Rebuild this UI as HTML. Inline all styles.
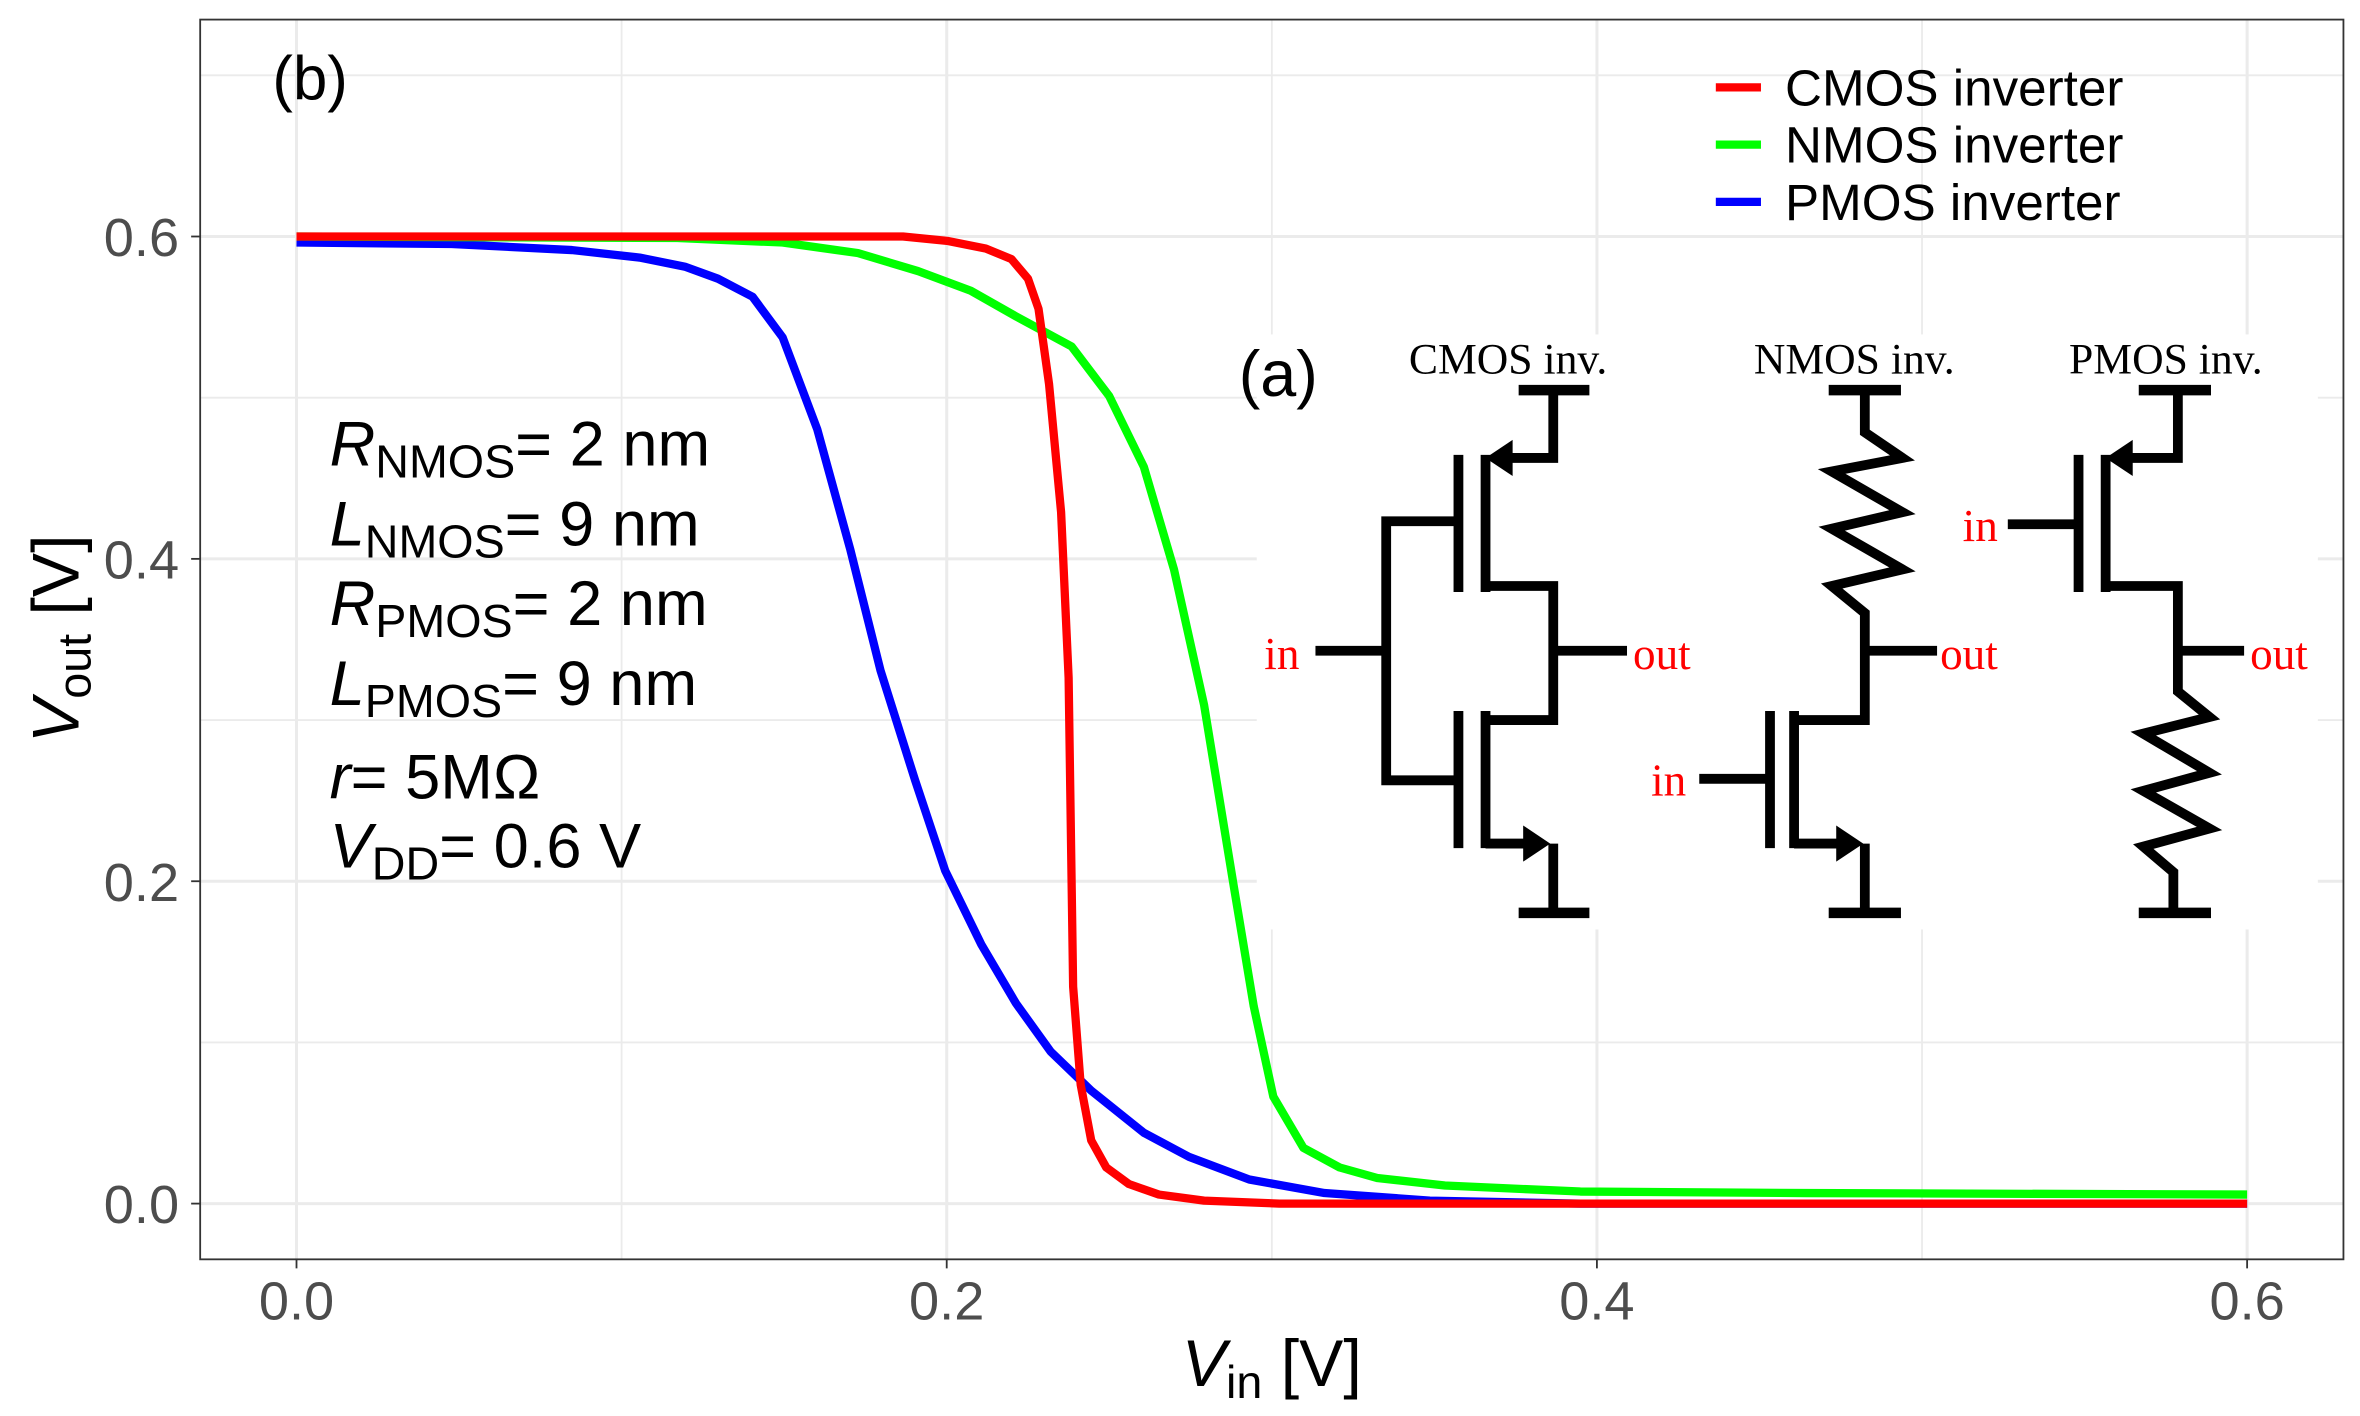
<!DOCTYPE html>
<html><head><meta charset="utf-8"><style>
html,body{margin:0;padding:0;background:#fff;}
svg{display:block;}
.s{font-family:"Liberation Sans",sans-serif;}
.t{font-family:"Liberation Serif",serif;}
</style></head><body>
<svg width="2360" height="1416" viewBox="0 0 1568 940" preserveAspectRatio="none" xmlns="http://www.w3.org/2000/svg">
<rect x="0" y="0" width="1568" height="940" fill="#fff"/>
<g stroke="#ebebeb" stroke-width="1.2">
<line x1="133" y1="50" x2="1557" y2="50"/><line x1="133" y1="264" x2="1557" y2="264"/><line x1="133" y1="478" x2="1557" y2="478"/><line x1="133" y1="692" x2="1557" y2="692"/>
<line x1="413" y1="13" x2="413" y2="836"/><line x1="845" y1="13" x2="845" y2="836"/><line x1="1277" y1="13" x2="1277" y2="836"/>
</g>
<g stroke="#ebebeb" stroke-width="2">
<line x1="133" y1="157" x2="1557" y2="157"/><line x1="133" y1="371" x2="1557" y2="371"/><line x1="133" y1="585" x2="1557" y2="585"/><line x1="133" y1="799" x2="1557" y2="799"/>
<line x1="197" y1="13" x2="197" y2="836"/><line x1="629" y1="13" x2="629" y2="836"/><line x1="1061" y1="13" x2="1061" y2="836"/><line x1="1493" y1="13" x2="1493" y2="836"/>
</g>
<rect x="835" y="222" width="705" height="395" fill="#fff"/>
<g fill="none" stroke-width="5.5" stroke-linejoin="round">
<polyline stroke="#0000ff" points="197,161 300,162 380,166 425,171 455,177 477,185 500,197 520,224 543,285 565,365 585,445 608,518 628,578 652,627 675,666 698,698 725,724 760,752 790,768 830,783 880,792 950,797 1050,799 1493,799"/>
<polyline stroke="#00ff00" points="197,157 450,158 520,161 570,168 610,180 645,193 675,210 712,230 737,263 760,310 780,378 800,468 820,590 833,668 846,728 866,762 890,775 915,782 960,787 1050,791 1200,792 1493,793"/>
<polyline stroke="#ff0000" points="197,157 600,157 630,160 655,165 672,172 683,185 690,205 697,255 705,340 710,450 713,655 718,720 725,757 735,775 750,786 770,793 800,797 850,799 1493,799"/>
</g>
<rect x="133" y="13" width="1424" height="823" fill="none" stroke="#333" stroke-width="1.2"/>
<g stroke="#333" stroke-width="1.2">
<line x1="127" y1="157" x2="133" y2="157"/><line x1="127" y1="371" x2="133" y2="371"/><line x1="127" y1="585" x2="133" y2="585"/><line x1="127" y1="799" x2="133" y2="799"/>
<line x1="197" y1="836" x2="197" y2="842"/><line x1="629" y1="836" x2="629" y2="842"/><line x1="1061" y1="836" x2="1061" y2="842"/><line x1="1493" y1="836" x2="1493" y2="842"/>
</g>
<g class="s" fill="#4d4d4d" font-size="36">
<text x="119" y="170" text-anchor="end">0.6</text><text x="119" y="384" text-anchor="end">0.4</text><text x="119" y="598" text-anchor="end">0.2</text><text x="119" y="812" text-anchor="end">0.0</text>
<text x="197" y="876" text-anchor="middle">0.0</text><text x="629" y="876" text-anchor="middle">0.2</text><text x="1061" y="876" text-anchor="middle">0.4</text><text x="1493" y="876" text-anchor="middle">0.6</text>
</g>
<text class="s" x="845" y="920" text-anchor="middle" font-size="44"><tspan font-style="italic">V</tspan><tspan font-size="31" dy="8">in</tspan><tspan dy="-8"> [V]</tspan></text>
<text class="s" transform="translate(52,424) rotate(-90)" text-anchor="middle" font-size="44"><tspan font-style="italic">V</tspan><tspan font-size="31" dy="8">out</tspan><tspan dy="-8"> [V]</tspan></text>
<text class="s" x="181" y="66" font-size="41">(b)</text>
<g stroke-width="5.5"><line x1="1140" y1="58" x2="1170" y2="58" stroke="#ff0000"/><line x1="1140" y1="96" x2="1170" y2="96" stroke="#00ff00"/><line x1="1140" y1="134" x2="1170" y2="134" stroke="#0000ff"/></g>
<g class="s" font-size="34"><text x="1186" y="70">CMOS inverter</text><text x="1186" y="108">NMOS inverter</text><text x="1186" y="146">PMOS inverter</text></g>
<g class="s" font-size="42">
<text x="219" y="309"><tspan font-style="italic">R</tspan><tspan font-size="31" dy="8">NMOS</tspan><tspan dy="-8">= 2 nm</tspan></text>
<text x="219" y="362"><tspan font-style="italic">L</tspan><tspan font-size="31" dy="8">NMOS</tspan><tspan dy="-8">= 9 nm</tspan></text>
<text x="219" y="415"><tspan font-style="italic">R</tspan><tspan font-size="31" dy="8">PMOS</tspan><tspan dy="-8">= 2 nm</tspan></text>
<text x="219" y="468"><tspan font-style="italic">L</tspan><tspan font-size="31" dy="8">PMOS</tspan><tspan dy="-8">= 9 nm</tspan></text>
<text x="219" y="530"><tspan font-style="italic">r</tspan>= 5MΩ</text>
<text x="219" y="576"><tspan font-style="italic">V</tspan><tspan font-size="31" dy="8">DD</tspan><tspan dy="-8">= 0.6 V</tspan></text>
</g>
<text class="s" x="823" y="263" font-size="43">(a)</text>
<g class="t" font-size="29"><text x="1002" y="248" text-anchor="middle">CMOS inv.</text><text x="1232" y="248" text-anchor="middle">NMOS inv.</text><text x="1439" y="248" text-anchor="middle">PMOS inv.</text></g>
<g class="t" font-size="30" fill="#ff0000">
<text x="840" y="444">in</text><text x="1085" y="444">out</text>
<text x="1097" y="528">in</text><text x="1289" y="444">out</text>
<text x="1304" y="359">in</text><text x="1495" y="444">out</text>
</g>
<g fill="none" stroke="#000" stroke-width="6.5" stroke-linejoin="miter">
<line x1="1009" y1="259" x2="1056" y2="259" stroke-width="7"/>
<polyline points="1032,259 1032,304 998,304"/>
<line x1="969" y1="302" x2="969" y2="393"/>
<line x1="987" y1="302" x2="987" y2="393"/>
<polyline points="987,389 1032,389 1032,478 987,478"/>
<line x1="1032" y1="432" x2="1081" y2="432"/>
<line x1="969" y1="472" x2="969" y2="563"/>
<line x1="987" y1="472" x2="987" y2="563"/>
<polyline points="987,560 1020,560"/>
<polyline points="1032,560 1032,606"/>
<line x1="1009" y1="606" x2="1056" y2="606" stroke-width="7"/>
<polyline points="969,346 921,346 921,518 969,518"/>
<line x1="874" y1="432" x2="921" y2="432"/>
<line x1="1215" y1="259" x2="1263" y2="259" stroke-width="7"/>
<polyline points="1239,259 1239,287 1264,304 1217,313 1264,340 1217,351 1264,378 1217,389 1239,407 1239,478 1192,478"/>
<line x1="1239" y1="432" x2="1287" y2="432"/>
<line x1="1176" y1="472" x2="1176" y2="563"/>
<line x1="1192" y1="472" x2="1192" y2="563"/>
<line x1="1129" y1="517" x2="1176" y2="517"/>
<polyline points="1192,560 1228,560"/>
<line x1="1239" y1="560" x2="1239" y2="606"/>
<line x1="1215" y1="606" x2="1263" y2="606" stroke-width="7"/>
<line x1="1421" y1="259" x2="1469" y2="259" stroke-width="7"/>
<polyline points="1447,259 1447,304 1411,304"/>
<line x1="1381" y1="302" x2="1381" y2="393"/>
<line x1="1399" y1="302" x2="1399" y2="393"/>
<line x1="1334" y1="348" x2="1381" y2="348"/>
<polyline points="1399,389 1447,389 1447,459 1468,476 1424,487 1468,513 1424,525 1468,550 1424,562 1444,579 1444,606"/>
<line x1="1447" y1="432" x2="1491" y2="432"/>
<line x1="1421" y1="606" x2="1469" y2="606" stroke-width="7"/>
</g>
<g fill="#000">
<polygon points="987,304 1005,292 1005,316"/>
<polygon points="1030,560 1012,548 1012,572"/>
<polygon points="1399,304 1417,292 1417,316"/>
<polygon points="1238,560 1220,548 1220,572"/>
</g>
</svg>
</body></html>
